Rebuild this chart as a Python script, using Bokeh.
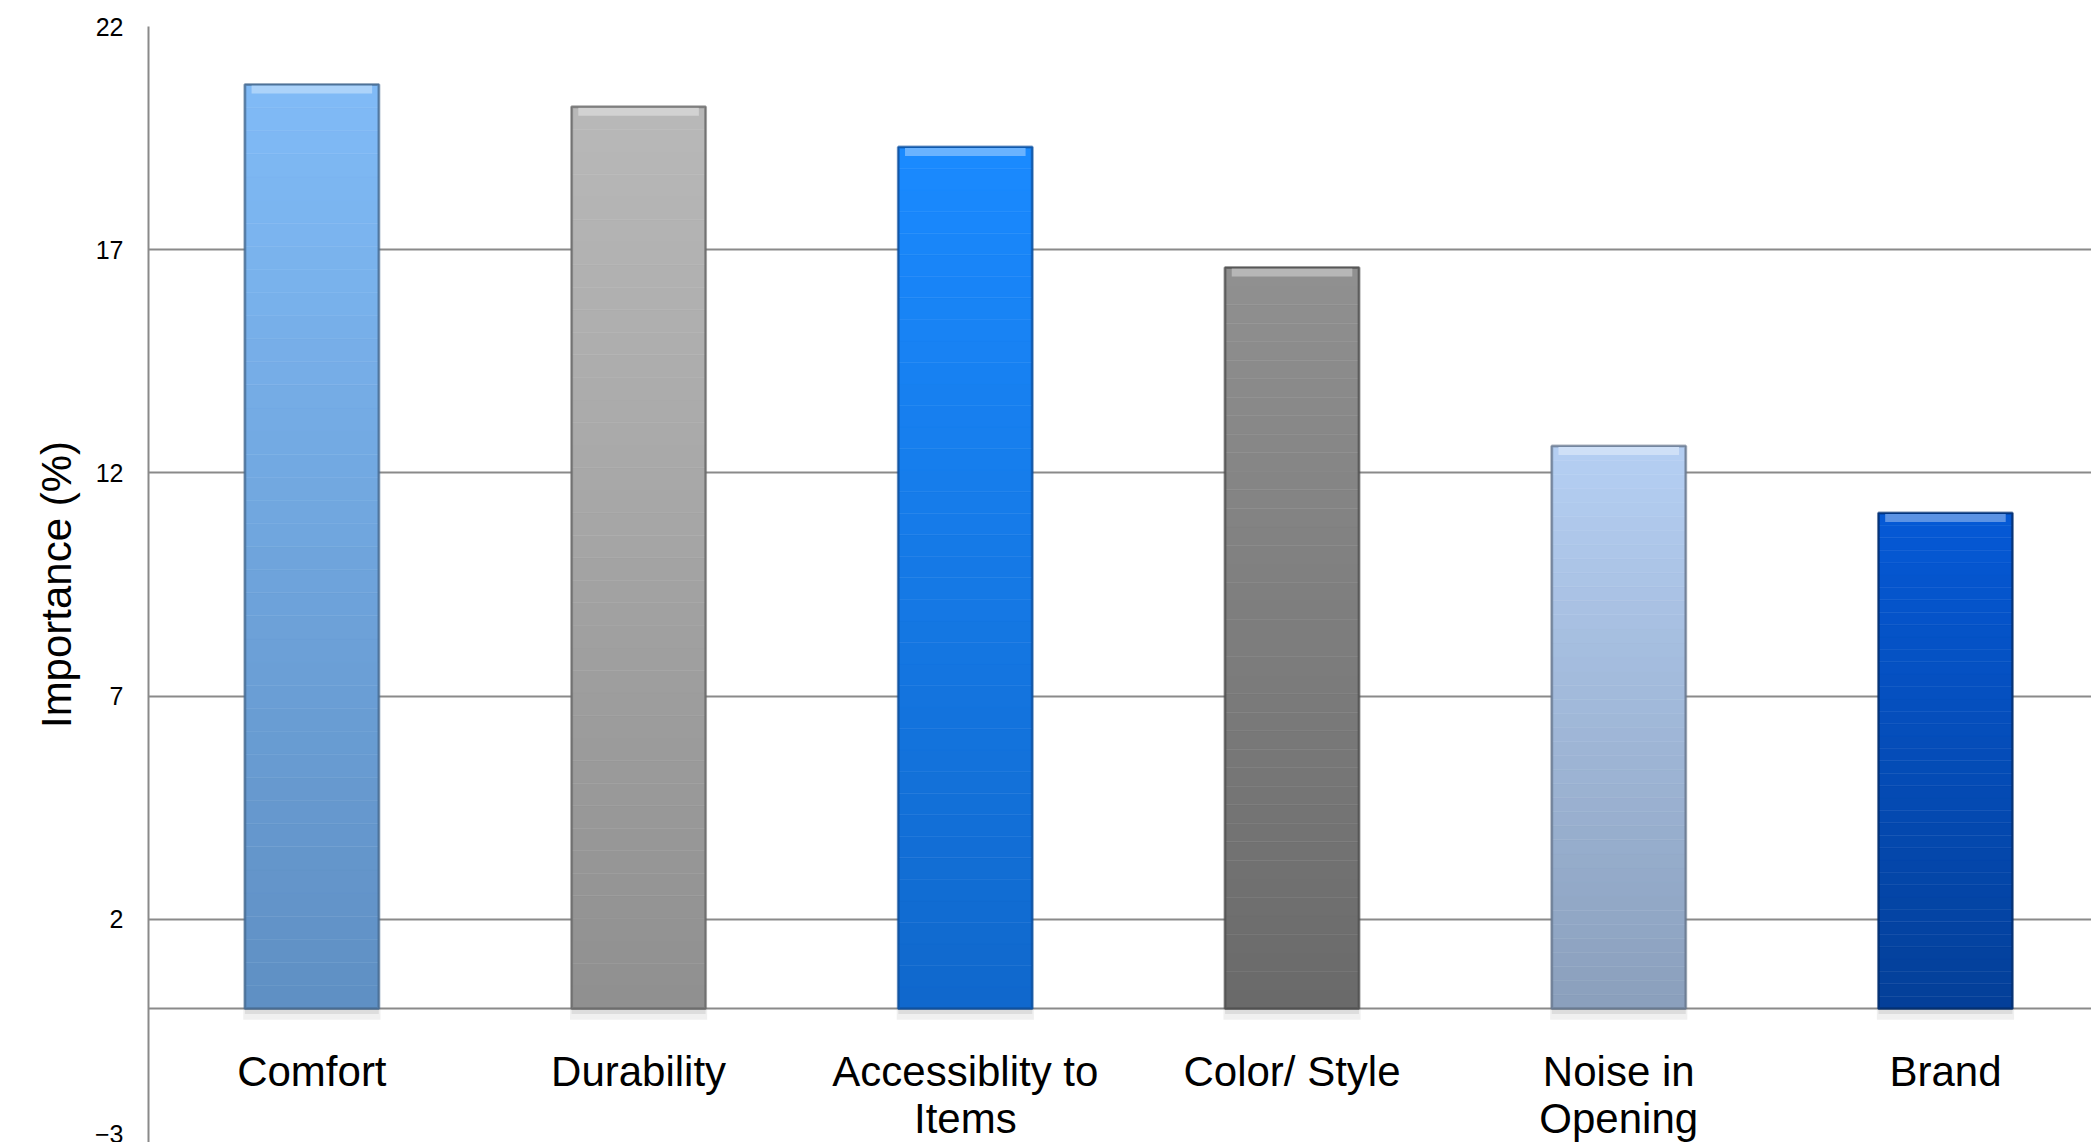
from bokeh.plotting import figure
from bokeh.models import Range1d, Span, FixedTicker, ColumnDataSource
from bokeh.core.properties import value
from bokeh.embed import file_html
from bokeh.resources import INLINE

# ---- data ----
categories = ["Comfort", "Durability", "Accessiblity to\nItems", "Color/ Style", "Noise in\nOpening", "Brand"]
importance = [20.7, 20.2, 19.3, 16.6, 12.6, 11.1]
top_colors = ["#80bbf7", "#b9b9b9", "#1a8aff", "#909090", "#b5cff3", "#0559d6"]
bottom_colors = ["#5f8fc3", "#8f8f8f", "#1068cc", "#6a6a6a", "#8a9fbc", "#043f98"]
edge_colors = ["#46698f", "#6a6a6a", "#0c4f9c", "#4f4f4f", "#67778d", "#022d6e"]
y_ticks = [-3, 2, 7, 12, 17, 22]
y_label = "Importance (%)"

FONT = "Liberation Sans"
GRID = "#8a8a8a"
BAR_W = 0.41
N_SEG = 40


def hex2rgb(h):
    h = h.lstrip("#")
    return tuple(int(h[i:i + 2], 16) for i in (0, 2, 4))


def mix(c1, c2, t):
    a, b = hex2rgb(c1), hex2rgb(c2)
    return "#%02x%02x%02x" % tuple(int(round(a[i] + (b[i] - a[i]) * t)) for i in range(3))


p = figure(width=2091, height=1142,
           x_range=Range1d(0, 5.947), y_range=Range1d(-3, 22),
           output_backend="svg", toolbar_location=None,
           x_axis_location=None,
           min_border_left=148, min_border_top=26, min_border_right=0, min_border_bottom=0)
p.outline_line_color = None
p.background_fill_color = "white"
p.border_fill_color = "white"
p.xgrid.visible = False
p.ygrid.grid_line_color = GRID
p.ygrid.grid_line_width = 2

ax = p.yaxis[0]
ax.ticker = FixedTicker(ticks=y_ticks)
ax.axis_line_color = GRID
ax.axis_line_width = 2
ax.major_tick_line_color = None
ax.minor_tick_line_color = None
ax.major_tick_out = 0
ax.major_tick_in = 0
ax.major_label_standoff = 25
ax.major_label_text_font = FONT
ax.major_label_text_font_size = "25px"
ax.major_label_text_color = "black"
ax.axis_label = y_label
ax.axis_label_text_font = FONT
ax.axis_label_text_font_size = "42px"
ax.axis_label_text_font_style = "normal"
ax.axis_label_text_color = "black"
ax.axis_label_standoff = 12

# zero line (category axis crossing)
p.add_layout(Span(location=0, dimension="width", line_color=GRID, line_width=2, level="underlay"))

xs = [i + 0.5 for i in range(len(categories))]

# soft shadow under bars
p.vbar(x=xs, width=BAR_W + 0.01, top=[0] * len(xs), bottom=[-0.25] * len(xs),
       fill_color="#000000", fill_alpha=0.06, line_color=None)
p.vbar(x=xs, width=BAR_W, top=[0] * len(xs), bottom=[-0.12] * len(xs),
       fill_color="#000000", fill_alpha=0.08, line_color=None)

# gradient bars: stacked segments of each value
seg_x, seg_b, seg_t, seg_c = [], [], [], []
for xi, v, ct, cb in zip(xs, importance, top_colors, bottom_colors):
    for k in range(N_SEG):
        seg_x.append(xi)
        seg_b.append(v * k / N_SEG)
        seg_t.append(v * (k + 1) / N_SEG)
        seg_c.append(mix(cb, ct, (k + 0.5) / N_SEG))
p.vbar(x=seg_x, width=BAR_W, bottom=seg_b, top=seg_t, fill_color=seg_c, line_color=seg_c, line_width=0.5)

# side shading (bevel sides)
edge_src = ColumnDataSource(dict(x=xs, top=importance, c=edge_colors))
p.vbar(x="x", width=BAR_W, top="top", bottom=0, source=edge_src,
       fill_color=None, line_color="c", line_width=3, line_alpha=0.55)

# top bevel highlight
hi_colors = [mix(c, "#ffffff", 0.35) for c in top_colors]
p.vbar(x=xs, width=BAR_W * 0.9, top=[v - 0.02 for v in importance],
       bottom=[v - 0.2 for v in importance],
       fill_color=hi_colors, line_color=None)

# outline
p.vbar(x="x", width=BAR_W, top="top", bottom=0, source=edge_src,
       fill_color=None, line_color="c", line_width=1.2, line_alpha=0.8)

# category labels under the zero line
p.text(x=xs, y=[0] * len(xs), text=categories,
       text_font=value(FONT), text_font_size="42px", text_color="black",
       text_align="center", text_baseline="top", y_offset=39, text_line_height=1.0)

open("out.html", "w").write(file_html(p, INLINE))
